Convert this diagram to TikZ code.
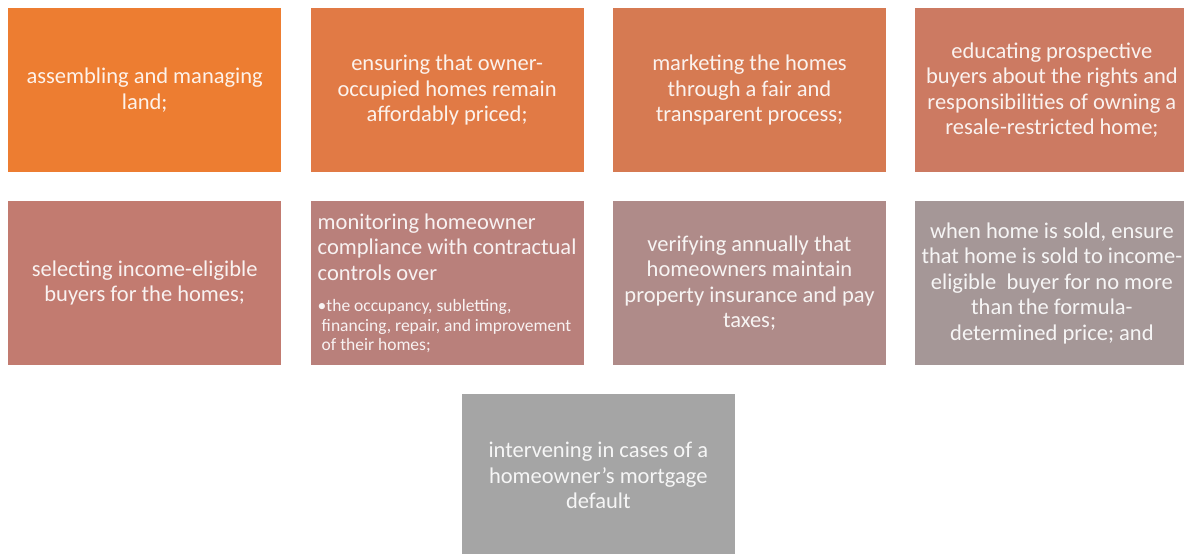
\documentclass[tikz,border=0pt]{standalone}
\usepackage{fontspec}
\setmainfont{Carlito}
\usepackage{xcolor}
\usetikzlibrary{positioning,calc}
% fill tones, orange fading to grey
\definecolor{tone1}{HTML}{ED7D31}
\definecolor{tone2}{HTML}{E17A45}
\definecolor{tone3}{HTML}{D67A52}
\definecolor{tone4}{HTML}{CC7A62}
\definecolor{tone5}{HTML}{C27B70}
\definecolor{tone6}{HTML}{B9807B}
\definecolor{tone7}{HTML}{AF8B89}
\definecolor{tone8}{HTML}{A59797}
\definecolor{tone9}{HTML}{A5A5A5}
\newcommand{\subline}{\fontsize{17.5}{19.5}\selectfont}
\tikzset{%
taskbox/.style={rectangle,fill=#1,text=#1!10!white,minimum width=273pt,minimum height=164pt,inner sep=0pt,align=center,font=\fontsize{22.5}{25.5}\selectfont}
}

\begin{document}
\begin{tikzpicture}[node distance=28.5pt and 29pt]
    \useasboundingbox (0,0) rectangle (1184pt,-554pt);
    \clip (0,0) rectangle (1184pt,-554pt);

    % first row
    \node[taskbox=tone1,anchor=north west] (land) at (8pt,-8pt) {assembling and managing\\land;};
    \node[taskbox=tone2] (priced) [right=of land] {ensuring that owner-\\occupied homes remain\\affordably priced;};
    \node[taskbox=tone3] (market) [right=of priced] {marketing the homes\\through a fair and\\transparent process;};
    \node[taskbox=tone4] (educate) [right=of market] {educating prospective\\buyers about the rights and\\responsibilities of owning a\\resale-restricted home;};

    % second row
    \node[taskbox=tone5] (select) [below=of land] {selecting income-eligible\\buyers for the homes;};
    \node[taskbox=tone6,align=left] (monitor) [below=of priced] {monitoring homeowner\\compliance with contractual\\controls over\\[6pt]\subline\textbullet the occupancy, subletting,\\[-6pt]\subline\hspace*{4pt}financing, repair, and improvement\\[-6pt]\subline\hspace*{4pt}of their homes;};
    \node[taskbox=tone7] (verify) [below=of market] {verifying annually that\\homeowners maintain\\property insurance and pay\\taxes;};
    \node[taskbox=tone8] (resale) [below=of educate] {when home is sold, ensure\\that home is sold to income-\\eligible\ \ buyer for no more\\than the formula-\\determined price; and};

    % last one, centred under the middle pair
    \coordinate (mid) at ($(monitor.south)!0.5!(verify.south)$);
    \node[taskbox=tone9] (default) [below=28pt of mid] {intervening in cases of a\\homeowner's mortgage\\default};
\end{tikzpicture}
\end{document}
